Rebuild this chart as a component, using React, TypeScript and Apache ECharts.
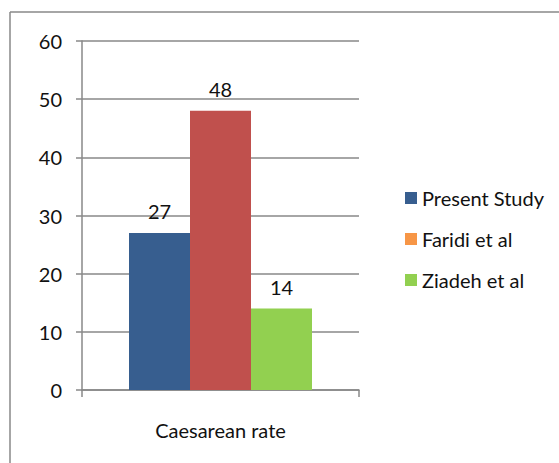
import React, { useEffect, useRef } from "react";
import * as echarts from "echarts";

const categories = ["Caesarean rate"];
const seriesNames = ["Present Study", "Faridi et al", "Ziadeh et al"];
const presentStudy = [27];
const faridi = [48];
const ziadeh = [14];
const barColors = ["#375E8F", "#C0504D", "#92D050"];
const legendColors = ["#375E8F", "#F79646", "#92D050"];
const yTicks = { min: 0, max: 60, interval: 10 };

const FONT = "Lato, 'Open Sans', sans-serif";

export default function App() {
  const ref = useRef<HTMLDivElement>(null);
  useEffect(() => {
    if (!ref.current) return;
    const chart = echarts.init(ref.current, null, { renderer: "svg" });
    const values = [presentStudy, faridi, ziadeh];
    chart.setOption({
      animation: false,
      backgroundColor: "#ffffff",
      textStyle: { fontFamily: FONT },
      grid: { left: 82, top: 41, right: 200, bottom: 73 },
      xAxis: {
        type: "category",
        data: categories,
        axisLine: { lineStyle: { color: "#888888", width: 1.5 } },
        axisTick: { show: true, length: 7, lineStyle: { color: "#888888", width: 1.5 } },
        axisLabel: { color: "#111111", fontSize: 20, fontFamily: FONT, margin: 30 },
      },
      yAxis: {
        type: "value",
        min: yTicks.min,
        max: yTicks.max,
        interval: yTicks.interval,
        axisLine: { show: true, lineStyle: { color: "#888888", width: 1.5 } },
        axisTick: { show: true, length: 6, lineStyle: { color: "#888888", width: 1.5 } },
        splitLine: { lineStyle: { color: "#888888", width: 1.5 } },
        axisLabel: { color: "#111111", fontSize: 20, fontFamily: FONT, margin: 20 },
      },
      legend: {
        orient: "vertical",
        left: 400,
        top: 183,
        itemWidth: 12,
        itemHeight: 12,
        itemGap: 21,
        icon: "rect",
        textStyle: { fontSize: 20, color: "#111111", fontFamily: FONT, lineHeight: 20 },
        data: seriesNames.map((n, i) => ({ name: n, itemStyle: { color: legendColors[i] } })),
      },
      series: seriesNames.map((n, i) => ({
        name: n,
        type: "bar",
        data: values[i],
        barWidth: 61,
        barGap: "0%",
        itemStyle: { color: barColors[i] },
        label: {
          show: true,
          position: "top",
          distance: 12,
          fontSize: 20,
          color: "#111111",
          fontFamily: FONT,
        },
      })),
      graphic: [
        {
          type: "line",
          shape: { x1: 10, y1: 12, x2: 559, y2: 12 },
          style: { stroke: "#888888", lineWidth: 1.5 },
        },
        {
          type: "line",
          shape: { x1: 10, y1: 12, x2: 10, y2: 463 },
          style: { stroke: "#888888", lineWidth: 1.5 },
        },
      ],
    });
    return () => chart.dispose();
  }, []);
  return (
    <div
      ref={ref}
      style={{ position: "absolute", left: 0, top: 0, width: 559, height: 463 }}
    />
  );
}
